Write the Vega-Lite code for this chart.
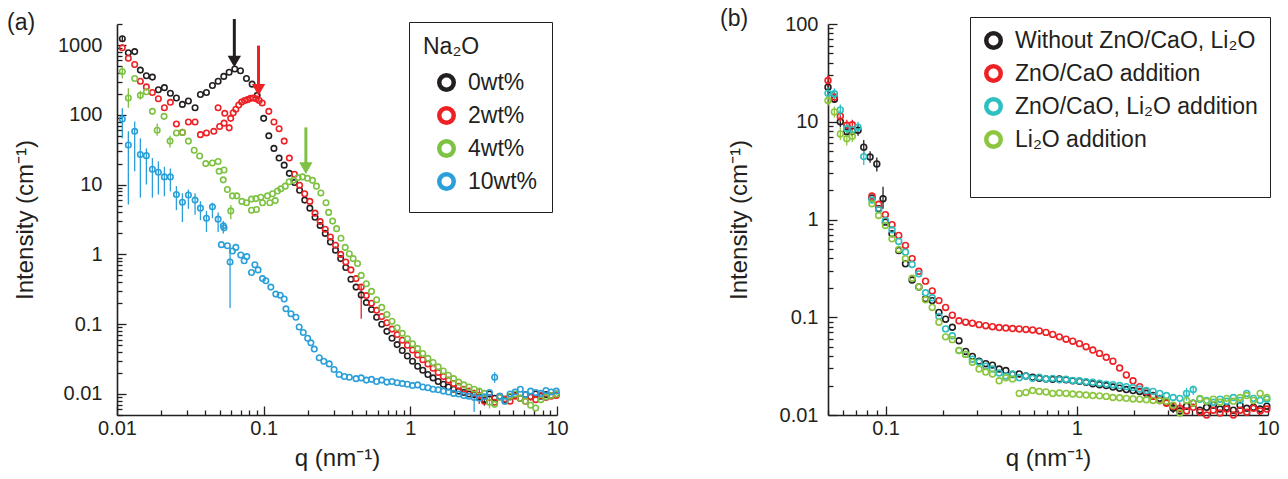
{
"$schema": "https://vega.github.io/schema/vega-lite/v6.json",
"background": "white",
"padding": {"left": 7, "top": 8, "right": 4, "bottom": 2},
"config": {
  "font": "Liberation Sans",
  "view": {"stroke": null},
  "axis": {"domainColor": "#231f20", "domainWidth": 1.6, "tickColor": "#231f20", "tickWidth": 1.3, "labelColor": "#231f20", "titleColor": "#231f20", "labelFontSize": 20, "titleFontSize": 24, "titleFontWeight": "normal", "grid": false, "labelOverlap": false, "labelFlush": false},
  "legend": {"strokeColor": "#231f20", "fillColor": "white", "labelFontSize": 23, "labelColor": "#231f20", "titleColor": "#231f20", "titleFontSize": 23, "titleFontWeight": "normal", "symbolSize": 210, "symbolStrokeWidth": 4.5, "rowPadding": 0, "labelOffset": 10, "labelLimit": 400},
  "title": {"fontSize": 23, "fontWeight": "normal", "color": "#231f20", "anchor": "start", "frame": "group", "offset": -17}
},
"datasets": {
"a": [
{"s":"0wt%","q":0.01087,"I":1230,"lo":1100,"hi":1360},{"s":"0wt%","q":0.01195,"I":776},{"s":"0wt%","q":0.0132,"I":804},{"s":"0wt%","q":0.01443,"I":437},{"s":"0wt%","q":0.01586,"I":363},{"s":"0wt%","q":0.01743,"I":347},{"s":"0wt%","q":0.01915,"I":229},{"s":"0wt%","q":0.02104,"I":245},{"s":"0wt%","q":0.02312,"I":204},{"s":"0wt%","q":0.02541,"I":174},{"s":"0wt%","q":0.02792,"I":141},{"s":"0wt%","q":0.03068,"I":158},{"s":"0wt%","q":0.03406,"I":126},{"s":"0wt%","q":0.03706,"I":195},{"s":"0wt%","q":0.04073,"I":209},{"s":"0wt%","q":0.04474,"I":263},{"s":"0wt%","q":0.04892,"I":302},{"s":"0wt%","q":0.05346,"I":355},{"s":"0wt%","q":0.05814,"I":407},{"s":"0wt%","q":0.06355,"I":454},{"s":"0wt%","q":0.06948,"I":427},{"s":"0wt%","q":0.07632,"I":331},{"s":"0wt%","q":0.08346,"I":275},{"s":"0wt%","q":0.09029,"I":190},
{"s":"0wt%","q":0.1,"I":89},{"s":"0wt%","q":0.1084,"I":50},{"s":"0wt%","q":0.1175,"I":33},{"s":"0wt%","q":0.1274,"I":24},{"s":"0wt%","q":0.138,"I":19},{"s":"0wt%","q":0.1496,"I":14.5},{"s":"0wt%","q":0.1622,"I":10.7},{"s":"0wt%","q":0.1758,"I":8.3},{"s":"0wt%","q":0.1905,"I":6.0},{"s":"0wt%","q":0.2065,"I":4.6},{"s":"0wt%","q":0.2239,"I":3.4},{"s":"0wt%","q":0.2427,"I":2.6},{"s":"0wt%","q":0.263,"I":2.0},{"s":"0wt%","q":0.2851,"I":1.51},{"s":"0wt%","q":0.309,"I":1.15},{"s":"0wt%","q":0.335,"I":0.87},{"s":"0wt%","q":0.3631,"I":0.65},{"s":"0wt%","q":0.3936,"I":0.44},{"s":"0wt%","q":0.4266,"I":0.34},{"s":"0wt%","q":0.4624,"I":0.263},{"s":"0wt%","q":0.5012,"I":0.204},{"s":"0wt%","q":0.5433,"I":0.162},{"s":"0wt%","q":0.5888,"I":0.126},{"s":"0wt%","q":0.6383,"I":0.1},{"s":"0wt%","q":0.6918,"I":0.079},{"s":"0wt%","q":0.7499,"I":0.063},{"s":"0wt%","q":0.8128,"I":0.051},{"s":"0wt%","q":0.881,"I":0.042},{"s":"0wt%","q":0.955,"I":0.035},{"s":"0wt%","q":1.035,"I":0.0295},{"s":"0wt%","q":1.122,"I":0.025},{"s":"0wt%","q":1.216,"I":0.0219},{"s":"0wt%","q":1.318,"I":0.019},{"s":"0wt%","q":1.429,"I":0.017},{"s":"0wt%","q":1.549,"I":0.0151},{"s":"0wt%","q":1.679,"I":0.0138},{"s":"0wt%","q":1.82,"I":0.0126},{"s":"0wt%","q":1.972,"I":0.0117},{"s":"0wt%","q":2.138,"I":0.011},{"s":"0wt%","q":2.317,"I":0.0105},{"s":"0wt%","q":2.512,"I":0.01},{"s":"0wt%","q":2.723,"I":0.0098},{"s":"0wt%","q":2.951,"I":0.0091},{"s":"0wt%","q":3.199,"I":0.0083,"lo":0.0068,"hi":0.0098},{"s":"0wt%","q":3.467,"I":0.01},{"s":"0wt%","q":3.758,"I":0.0087},{"s":"0wt%","q":4.074,"I":0.0093},{"s":"0wt%","q":4.416,"I":0.0083},{"s":"0wt%","q":4.786,"I":0.0091},{"s":"0wt%","q":5.188,"I":0.0095},{"s":"0wt%","q":5.623,"I":0.0087},{"s":"0wt%","q":6.095,"I":0.0098},{"s":"0wt%","q":6.607,"I":0.0091},{"s":"0wt%","q":7.161,"I":0.01},{"s":"0wt%","q":7.762,"I":0.0093},{"s":"0wt%","q":8.414,"I":0.0098},{"s":"0wt%","q":9.12,"I":0.0095},{"s":"0wt%","q":9.886,"I":0.01},
{"s":"2wt%","q":0.01087,"I":912},{"s":"2wt%","q":0.01195,"I":646},{"s":"2wt%","q":0.0132,"I":525},{"s":"2wt%","q":0.01443,"I":302},{"s":"2wt%","q":0.01586,"I":251},{"s":"2wt%","q":0.01743,"I":209},{"s":"2wt%","q":0.01915,"I":170},{"s":"2wt%","q":0.02104,"I":126},{"s":"2wt%","q":0.02312,"I":151},{"s":"2wt%","q":0.02541,"I":74},{"s":"2wt%","q":0.02792,"I":56},{"s":"2wt%","q":0.03068,"I":79},{"s":"2wt%","q":0.03406,"I":79},{"s":"2wt%","q":0.03706,"I":52},{"s":"2wt%","q":0.04073,"I":55},{"s":"2wt%","q":0.0457,"I":58},{"s":"2wt%","q":0.0489,"I":126},{"s":"2wt%","q":0.0501,"I":68},{"s":"2wt%","q":0.0537,"I":76},{"s":"2wt%","q":0.0543,"I":105},{"s":"2wt%","q":0.0582,"I":65},{"s":"2wt%","q":0.0596,"I":89},{"s":"2wt%","q":0.062,"I":107},{"s":"2wt%","q":0.0646,"I":120},{"s":"2wt%","q":0.0676,"I":138},{"s":"2wt%","q":0.0708,"I":152},{"s":"2wt%","q":0.0741,"I":160},{"s":"2wt%","q":0.0776,"I":165},{"s":"2wt%","q":0.0813,"I":172},{"s":"2wt%","q":0.0851,"I":174},{"s":"2wt%","q":0.0891,"I":170},{"s":"2wt%","q":0.0933,"I":160},{"s":"2wt%","q":0.0977,"I":148},
{"s":"2wt%","q":0.1084,"I":112},{"s":"2wt%","q":0.1175,"I":79},{"s":"2wt%","q":0.1274,"I":63},{"s":"2wt%","q":0.138,"I":42},{"s":"2wt%","q":0.1496,"I":24},{"s":"2wt%","q":0.1622,"I":14.1},{"s":"2wt%","q":0.1758,"I":9.8},{"s":"2wt%","q":0.1905,"I":7.4},{"s":"2wt%","q":0.2065,"I":5.75},{"s":"2wt%","q":0.2239,"I":3.9},{"s":"2wt%","q":0.2427,"I":2.95},{"s":"2wt%","q":0.263,"I":2.29},{"s":"2wt%","q":0.2851,"I":1.78},{"s":"2wt%","q":0.309,"I":1.35},{"s":"2wt%","q":0.335,"I":1.0},{"s":"2wt%","q":0.3631,"I":0.78},{"s":"2wt%","q":0.3936,"I":0.6},{"s":"2wt%","q":0.4266,"I":0.45},{"s":"2wt%","q":0.4624,"I":0.34,"lo":0.12,"hi":0.36},{"s":"2wt%","q":0.5012,"I":0.257},{"s":"2wt%","q":0.5433,"I":0.2},{"s":"2wt%","q":0.5888,"I":0.158},{"s":"2wt%","q":0.6383,"I":0.129},{"s":"2wt%","q":0.6918,"I":0.105},{"s":"2wt%","q":0.7499,"I":0.085},{"s":"2wt%","q":0.8128,"I":0.071},{"s":"2wt%","q":0.881,"I":0.059},{"s":"2wt%","q":0.955,"I":0.05},{"s":"2wt%","q":1.035,"I":0.0427},{"s":"2wt%","q":1.122,"I":0.0363},{"s":"2wt%","q":1.216,"I":0.0309},{"s":"2wt%","q":1.318,"I":0.0269},{"s":"2wt%","q":1.429,"I":0.0234},{"s":"2wt%","q":1.549,"I":0.0204},{"s":"2wt%","q":1.679,"I":0.0178},{"s":"2wt%","q":1.82,"I":0.0158},{"s":"2wt%","q":1.972,"I":0.0141},{"s":"2wt%","q":2.138,"I":0.0129},{"s":"2wt%","q":2.317,"I":0.0117},{"s":"2wt%","q":2.512,"I":0.011},{"s":"2wt%","q":2.723,"I":0.0102},{"s":"2wt%","q":2.951,"I":0.0095,"lo":0.0072,"hi":0.0118},{"s":"2wt%","q":3.199,"I":0.0079},{"s":"2wt%","q":3.467,"I":0.0089},{"s":"2wt%","q":3.758,"I":0.0076},{"s":"2wt%","q":4.074,"I":0.0091},{"s":"2wt%","q":4.416,"I":0.0085},{"s":"2wt%","q":4.786,"I":0.0079},{"s":"2wt%","q":5.188,"I":0.0093},{"s":"2wt%","q":5.623,"I":0.0087},{"s":"2wt%","q":6.095,"I":0.0079},{"s":"2wt%","q":6.607,"I":0.0091},{"s":"2wt%","q":7.161,"I":0.0083},{"s":"2wt%","q":7.762,"I":0.0095},{"s":"2wt%","q":8.414,"I":0.0089},{"s":"2wt%","q":9.12,"I":0.0093},{"s":"2wt%","q":9.886,"I":0.0095},
{"s":"4wt%","q":0.01087,"I":417,"lo":331,"hi":490},{"s":"4wt%","q":0.01195,"I":174,"lo":126,"hi":240},{"s":"4wt%","q":0.0132,"I":331},{"s":"4wt%","q":0.01443,"I":190,"lo":165,"hi":220},{"s":"4wt%","q":0.01586,"I":214},{"s":"4wt%","q":0.01743,"I":112},{"s":"4wt%","q":0.0188,"I":60,"lo":50,"hi":75},{"s":"4wt%","q":0.02094,"I":95},{"s":"4wt%","q":0.023,"I":42,"lo":34,"hi":50},{"s":"4wt%","q":0.02541,"I":55},{"s":"4wt%","q":0.02792,"I":56},{"s":"4wt%","q":0.03068,"I":42},{"s":"4wt%","q":0.0336,"I":31},{"s":"4wt%","q":0.0366,"I":25.7},{"s":"4wt%","q":0.0403,"I":20},{"s":"4wt%","q":0.0447,"I":20.4},{"s":"4wt%","q":0.0489,"I":21.4},{"s":"4wt%","q":0.0497,"I":15.5},{"s":"4wt%","q":0.053,"I":11.7},{"s":"4wt%","q":0.0537,"I":16.2},{"s":"4wt%","q":0.0566,"I":8.5},{"s":"4wt%","q":0.0597,"I":4.2,"lo":3.2,"hi":5.1},{"s":"4wt%","q":0.0612,"I":6.9},{"s":"4wt%","q":0.0656,"I":6.9},{"s":"4wt%","q":0.071,"I":5.75},{"s":"4wt%","q":0.0764,"I":5.5},{"s":"4wt%","q":0.0826,"I":6.2},{"s":"4wt%","q":0.0826,"I":4.3},{"s":"4wt%","q":0.0885,"I":6.3},{"s":"4wt%","q":0.0893,"I":4.4},{"s":"4wt%","q":0.0957,"I":6.6},{"s":"4wt%","q":0.0982,"I":5.5},{"s":"4wt%","q":0.1062,"I":6.9},{"s":"4wt%","q":0.1102,"I":5.5},{"s":"4wt%","q":0.1148,"I":7.4},{"s":"4wt%","q":0.12,"I":5.9},{"s":"4wt%","q":0.1242,"I":8.1},{"s":"4wt%","q":0.1309,"I":8.7},{"s":"4wt%","q":0.1403,"I":9.5},{"s":"4wt%","q":0.1493,"I":11.0},{"s":"4wt%","q":0.1596,"I":11.5},{"s":"4wt%","q":0.1718,"I":12.6},{"s":"4wt%","q":0.1841,"I":12.9},{"s":"4wt%","q":0.1991,"I":12.3},{"s":"4wt%","q":0.2153,"I":11.5},{"s":"4wt%","q":0.2291,"I":9.5},{"s":"4wt%","q":0.2455,"I":7.6},{"s":"4wt%","q":0.2661,"I":5.5},{"s":"4wt%","q":0.2773,"I":4.0},{"s":"4wt%","q":0.2951,"I":3.0},{"s":"4wt%","q":0.3141,"I":2.34},{"s":"4wt%","q":0.3365,"I":1.7},{"s":"4wt%","q":0.3597,"I":1.26},{"s":"4wt%","q":0.3837,"I":1.02},{"s":"4wt%","q":0.4074,"I":0.87},{"s":"4wt%","q":0.4365,"I":0.74},{"s":"4wt%","q":0.4624,"I":0.5},{"s":"4wt%","q":0.5012,"I":0.38},{"s":"4wt%","q":0.5433,"I":0.295},{"s":"4wt%","q":0.5888,"I":0.224},{"s":"4wt%","q":0.6383,"I":0.174},{"s":"4wt%","q":0.6918,"I":0.138},{"s":"4wt%","q":0.7499,"I":0.11},{"s":"4wt%","q":0.8128,"I":0.089},{"s":"4wt%","q":0.881,"I":0.074},{"s":"4wt%","q":0.955,"I":0.062},{"s":"4wt%","q":1.035,"I":0.0525},{"s":"4wt%","q":1.122,"I":0.0447},{"s":"4wt%","q":1.216,"I":0.038},{"s":"4wt%","q":1.318,"I":0.0324},{"s":"4wt%","q":1.429,"I":0.0282},{"s":"4wt%","q":1.549,"I":0.0245},{"s":"4wt%","q":1.679,"I":0.0214},{"s":"4wt%","q":1.82,"I":0.0186},{"s":"4wt%","q":1.972,"I":0.0166},{"s":"4wt%","q":2.138,"I":0.0148},{"s":"4wt%","q":2.317,"I":0.0135},{"s":"4wt%","q":2.512,"I":0.0126},{"s":"4wt%","q":2.723,"I":0.0117},{"s":"4wt%","q":2.951,"I":0.011},{"s":"4wt%","q":3.199,"I":0.0102},{"s":"4wt%","q":3.467,"I":0.0076,"lo":0.0062,"hi":0.009},{"s":"4wt%","q":3.758,"I":0.0071},{"s":"4wt%","q":4.074,"I":0.0089},{"s":"4wt%","q":4.416,"I":0.0079},{"s":"4wt%","q":4.786,"I":0.0093},{"s":"4wt%","q":5.188,"I":0.01},{"s":"4wt%","q":5.623,"I":0.0087},{"s":"4wt%","q":6.095,"I":0.0079},{"s":"4wt%","q":6.607,"I":0.0069},{"s":"4wt%","q":7.161,"I":0.0063},{"s":"4wt%","q":7.762,"I":0.0083},{"s":"4wt%","q":8.414,"I":0.0091},{"s":"4wt%","q":9.12,"I":0.0095},{"s":"4wt%","q":9.886,"I":0.01},
{"s":"10wt%","q":0.01087,"I":87,"lo":46,"hi":124},{"s":"10wt%","q":0.01195,"I":37,"lo":5.2,"hi":58},{"s":"10wt%","q":0.0132,"I":58,"lo":15.5,"hi":80},{"s":"10wt%","q":0.01443,"I":27,"lo":6.5,"hi":46},{"s":"10wt%","q":0.01586,"I":26,"lo":10,"hi":33},{"s":"10wt%","q":0.01743,"I":16.6,"lo":6.5,"hi":24},{"s":"10wt%","q":0.01915,"I":15,"lo":7.2,"hi":21.5},{"s":"10wt%","q":0.02104,"I":12.9,"lo":6.8,"hi":18},{"s":"10wt%","q":0.02312,"I":12.9,"lo":8,"hi":17},{"s":"10wt%","q":0.02541,"I":7.2,"lo":4.3,"hi":9.5},{"s":"10wt%","q":0.02792,"I":5.6,"lo":2.9,"hi":7.5},{"s":"10wt%","q":0.03068,"I":7.1,"lo":4.5,"hi":8.5},{"s":"10wt%","q":0.03406,"I":6.0,"lo":3.7,"hi":7.5},{"s":"10wt%","q":0.03706,"I":4.6,"lo":3.1,"hi":5.8},{"s":"10wt%","q":0.04073,"I":3.3,"lo":2.1,"hi":4.2},{"s":"10wt%","q":0.04474,"I":4.8,"lo":3.3,"hi":5.5},{"s":"10wt%","q":0.04892,"I":3.2,"lo":2.1,"hi":4.0},{"s":"10wt%","q":0.0515,"I":1.38},{"s":"10wt%","q":0.0531,"I":2.57,"lo":2.0,"hi":3.0},{"s":"10wt%","q":0.0537,"I":2.4},{"s":"10wt%","q":0.0566,"I":1.33},{"s":"10wt%","q":0.059,"I":0.78,"lo":0.17,"hi":1.26},{"s":"10wt%","q":0.0612,"I":1.12},{"s":"10wt%","q":0.0646,"I":1.26},{"s":"10wt%","q":0.0698,"I":0.98},{"s":"10wt%","q":0.0736,"I":0.81},{"s":"10wt%","q":0.0767,"I":0.93},{"s":"10wt%","q":0.0826,"I":0.55},{"s":"10wt%","q":0.0871,"I":0.71},{"s":"10wt%","q":0.0916,"I":0.6},{"s":"10wt%","q":0.0982,"I":0.45},{"s":"10wt%","q":0.1035,"I":0.42},{"s":"10wt%","q":0.1119,"I":0.34},{"s":"10wt%","q":0.121,"I":0.27},{"s":"10wt%","q":0.1297,"I":0.26},{"s":"10wt%","q":0.138,"I":0.23},{"s":"10wt%","q":0.1419,"I":0.166},{"s":"10wt%","q":0.1535,"I":0.141},{"s":"10wt%","q":0.166,"I":0.126},{"s":"10wt%","q":0.1746,"I":0.091},{"s":"10wt%","q":0.1862,"I":0.076},{"s":"10wt%","q":0.1995,"I":0.063},{"s":"10wt%","q":0.2099,"I":0.054},{"s":"10wt%","q":0.2213,"I":0.044},{"s":"10wt%","q":0.2393,"I":0.033},{"s":"10wt%","q":0.257,"I":0.0295},{"s":"10wt%","q":0.28,"I":0.027},{"s":"10wt%","q":0.302,"I":0.0224},{"s":"10wt%","q":0.327,"I":0.019},{"s":"10wt%","q":0.355,"I":0.0178},{"s":"10wt%","q":0.384,"I":0.0174},{"s":"10wt%","q":0.4266,"I":0.0166},{"s":"10wt%","q":0.4624,"I":0.017},{"s":"10wt%","q":0.5012,"I":0.0158},{"s":"10wt%","q":0.5433,"I":0.0162},{"s":"10wt%","q":0.5888,"I":0.0151},{"s":"10wt%","q":0.6383,"I":0.0158},{"s":"10wt%","q":0.6918,"I":0.0148},{"s":"10wt%","q":0.7499,"I":0.0151},{"s":"10wt%","q":0.8128,"I":0.0145},{"s":"10wt%","q":0.881,"I":0.0141},{"s":"10wt%","q":0.955,"I":0.0138},{"s":"10wt%","q":1.035,"I":0.0132},{"s":"10wt%","q":1.122,"I":0.0135},{"s":"10wt%","q":1.216,"I":0.0126},{"s":"10wt%","q":1.318,"I":0.0123},{"s":"10wt%","q":1.429,"I":0.0117},{"s":"10wt%","q":1.549,"I":0.0115},{"s":"10wt%","q":1.679,"I":0.011},{"s":"10wt%","q":1.82,"I":0.0107},{"s":"10wt%","q":1.972,"I":0.0102},{"s":"10wt%","q":2.138,"I":0.01},{"s":"10wt%","q":2.317,"I":0.0095},{"s":"10wt%","q":2.512,"I":0.0093},{"s":"10wt%","q":2.723,"I":0.0089,"lo":0.0055,"hi":0.0115},{"s":"10wt%","q":2.951,"I":0.0087},{"s":"10wt%","q":3.199,"I":0.0091},{"s":"10wt%","q":3.467,"I":0.0105},{"s":"10wt%","q":3.758,"I":0.0174,"lo":0.0145,"hi":0.0205},{"s":"10wt%","q":4.074,"I":0.0093},{"s":"10wt%","q":4.416,"I":0.0079},{"s":"10wt%","q":4.786,"I":0.01},{"s":"10wt%","q":5.188,"I":0.0107},{"s":"10wt%","q":5.623,"I":0.0117},{"s":"10wt%","q":6.095,"I":0.0098},{"s":"10wt%","q":6.607,"I":0.011},{"s":"10wt%","q":7.161,"I":0.0105},{"s":"10wt%","q":7.762,"I":0.0102},{"s":"10wt%","q":8.414,"I":0.0112},{"s":"10wt%","q":9.12,"I":0.0107},{"s":"10wt%","q":9.886,"I":0.011}
],
"arrows": [
{"s":"0wt%","q":0.0631,"top":2355,"head":580},
{"s":"2wt%","q":0.0922,"top":980,"head":228},
{"s":"4wt%","q":0.194,"top":66,"head":17.2}
],
"b": [
{"s":"Without ZnO/CaO, Li₂O","q":0.05,"I":22.6,"lo":19,"hi":26},{"s":"Without ZnO/CaO, Li₂O","q":0.054,"I":17},{"s":"Without ZnO/CaO, Li₂O","q":0.058,"I":10,"lo":8.8,"hi":11.3},{"s":"Without ZnO/CaO, Li₂O","q":0.0627,"I":7.9,"lo":7,"hi":8.9},{"s":"Without ZnO/CaO, Li₂O","q":0.067,"I":8.0,"lo":7.1,"hi":9},{"s":"Without ZnO/CaO, Li₂O","q":0.0718,"I":8.2,"lo":7.2,"hi":9.3},{"s":"Without ZnO/CaO, Li₂O","q":0.0769,"I":5.5,"lo":4.8,"hi":6.5},{"s":"Without ZnO/CaO, Li₂O","q":0.083,"I":4.35,"lo":3.8,"hi":5},{"s":"Without ZnO/CaO, Li₂O","q":0.09,"I":3.7,"lo":3.1,"hi":4.3},
{"s":"Without ZnO/CaO, Li₂O","q":0.0849,"I":1.66},{"s":"Without ZnO/CaO, Li₂O","q":0.092,"I":1.29},{"s":"Without ZnO/CaO, Li₂O","q":0.097,"I":1.63,"lo":1.29,"hi":2.16},{"s":"Without ZnO/CaO, Li₂O","q":0.0998,"I":0.94},{"s":"Without ZnO/CaO, Li₂O","q":0.1081,"I":0.714},{"s":"Without ZnO/CaO, Li₂O","q":0.1172,"I":0.482},{"s":"Without ZnO/CaO, Li₂O","q":0.1271,"I":0.352},{"s":"Without ZnO/CaO, Li₂O","q":0.1377,"I":0.24},{"s":"Without ZnO/CaO, Li₂O","q":0.1493,"I":0.204},{"s":"Without ZnO/CaO, Li₂O","q":0.1618,"I":0.155},{"s":"Without ZnO/CaO, Li₂O","q":0.1754,"I":0.148},{"s":"Without ZnO/CaO, Li₂O","q":0.1901,"I":0.112},{"s":"Without ZnO/CaO, Li₂O","q":0.2061,"I":0.0955},{"s":"Without ZnO/CaO, Li₂O","q":0.2234,"I":0.079},{"s":"Without ZnO/CaO, Li₂O","q":0.2421,"I":0.0575},{"s":"Without ZnO/CaO, Li₂O","q":0.2624,"I":0.0447},{"s":"Without ZnO/CaO, Li₂O","q":0.2844,"I":0.0398},{"s":"Without ZnO/CaO, Li₂O","q":0.3083,"I":0.0355},{"s":"Without ZnO/CaO, Li₂O","q":0.3342,"I":0.0335},{"s":"Without ZnO/CaO, Li₂O","q":0.3622,"I":0.0324},{"s":"Without ZnO/CaO, Li₂O","q":0.3926,"I":0.0295},{"s":"Without ZnO/CaO, Li₂O","q":0.4256,"I":0.0285},{"s":"Without ZnO/CaO, Li₂O","q":0.4613,"I":0.026},{"s":"Without ZnO/CaO, Li₂O","q":0.5,"I":0.0263},{"s":"Without ZnO/CaO, Li₂O","q":0.542,"I":0.0251},{"s":"Without ZnO/CaO, Li₂O","q":0.5875,"I":0.0243},{"s":"Without ZnO/CaO, Li₂O","q":0.6368,"I":0.0237},{"s":"Without ZnO/CaO, Li₂O","q":0.6902,"I":0.0234},{"s":"Without ZnO/CaO, Li₂O","q":0.7482,"I":0.0232},{"s":"Without ZnO/CaO, Li₂O","q":0.811,"I":0.0234},{"s":"Without ZnO/CaO, Li₂O","q":0.879,"I":0.0229},{"s":"Without ZnO/CaO, Li₂O","q":0.9528,"I":0.0224},{"s":"Without ZnO/CaO, Li₂O","q":1.033,"I":0.0221},{"s":"Without ZnO/CaO, Li₂O","q":1.119,"I":0.0216},{"s":"Without ZnO/CaO, Li₂O","q":1.213,"I":0.0209},{"s":"Without ZnO/CaO, Li₂O","q":1.315,"I":0.0204},{"s":"Without ZnO/CaO, Li₂O","q":1.426,"I":0.02},{"s":"Without ZnO/CaO, Li₂O","q":1.545,"I":0.0193},{"s":"Without ZnO/CaO, Li₂O","q":1.675,"I":0.0188},{"s":"Without ZnO/CaO, Li₂O","q":1.816,"I":0.0182},{"s":"Without ZnO/CaO, Li₂O","q":1.968,"I":0.0178},{"s":"Without ZnO/CaO, Li₂O","q":2.133,"I":0.0174},{"s":"Without ZnO/CaO, Li₂O","q":2.312,"I":0.0166},{"s":"Without ZnO/CaO, Li₂O","q":2.506,"I":0.0158},{"s":"Without ZnO/CaO, Li₂O","q":2.716,"I":0.0148},{"s":"Without ZnO/CaO, Li₂O","q":2.944,"I":0.0135},{"s":"Without ZnO/CaO, Li₂O","q":3.192,"I":0.0117,"lo":0.0105,"hi":0.013},{"s":"Without ZnO/CaO, Li₂O","q":3.459,"I":0.011},{"s":"Without ZnO/CaO, Li₂O","q":3.75,"I":0.0123},{"s":"Without ZnO/CaO, Li₂O","q":4.064,"I":0.0132},{"s":"Without ZnO/CaO, Li₂O","q":4.406,"I":0.0112},{"s":"Without ZnO/CaO, Li₂O","q":4.775,"I":0.012},{"s":"Without ZnO/CaO, Li₂O","q":5.176,"I":0.0126},{"s":"Without ZnO/CaO, Li₂O","q":5.61,"I":0.0115},{"s":"Without ZnO/CaO, Li₂O","q":6.081,"I":0.012},{"s":"Without ZnO/CaO, Li₂O","q":6.592,"I":0.0112},{"s":"Without ZnO/CaO, Li₂O","q":7.145,"I":0.0126},{"s":"Without ZnO/CaO, Li₂O","q":7.745,"I":0.0117},{"s":"Without ZnO/CaO, Li₂O","q":8.395,"I":0.012},{"s":"Without ZnO/CaO, Li₂O","q":9.099,"I":0.0115},{"s":"Without ZnO/CaO, Li₂O","q":9.863,"I":0.0123},
{"s":"ZnO/CaO addition","q":0.05,"I":26.4,"lo":23,"hi":30},{"s":"ZnO/CaO addition","q":0.054,"I":17.9,"lo":15.8,"hi":20},{"s":"ZnO/CaO addition","q":0.058,"I":11.4,"lo":10,"hi":13},{"s":"ZnO/CaO addition","q":0.0627,"I":9.2,"lo":8.1,"hi":10.5},{"s":"ZnO/CaO addition","q":0.067,"I":9.3,"lo":8.2,"hi":10.5},
{"s":"ZnO/CaO addition","q":0.0849,"I":1.74},{"s":"ZnO/CaO addition","q":0.092,"I":1.43},{"s":"ZnO/CaO addition","q":0.0998,"I":1.12},{"s":"ZnO/CaO addition","q":0.1081,"I":0.885},{"s":"ZnO/CaO addition","q":0.1172,"I":0.687},{"s":"ZnO/CaO addition","q":0.1271,"I":0.543},{"s":"ZnO/CaO addition","q":0.1377,"I":0.398},{"s":"ZnO/CaO addition","q":0.1493,"I":0.295},{"s":"ZnO/CaO addition","q":0.1618,"I":0.234},{"s":"ZnO/CaO addition","q":0.1754,"I":0.186},{"s":"ZnO/CaO addition","q":0.1901,"I":0.148},{"s":"ZnO/CaO addition","q":0.2061,"I":0.126},{"s":"ZnO/CaO addition","q":0.2234,"I":0.105},{"s":"ZnO/CaO addition","q":0.2421,"I":0.092},{"s":"ZnO/CaO addition","q":0.2624,"I":0.089},{"s":"ZnO/CaO addition","q":0.2844,"I":0.087},{"s":"ZnO/CaO addition","q":0.3083,"I":0.084},{"s":"ZnO/CaO addition","q":0.3342,"I":0.082},{"s":"ZnO/CaO addition","q":0.3622,"I":0.08},{"s":"ZnO/CaO addition","q":0.3926,"I":0.0785},{"s":"ZnO/CaO addition","q":0.4256,"I":0.0776},{"s":"ZnO/CaO addition","q":0.4613,"I":0.0767},{"s":"ZnO/CaO addition","q":0.5,"I":0.0759},{"s":"ZnO/CaO addition","q":0.542,"I":0.075},{"s":"ZnO/CaO addition","q":0.5875,"I":0.0741},{"s":"ZnO/CaO addition","q":0.6368,"I":0.0724},{"s":"ZnO/CaO addition","q":0.6902,"I":0.07},{"s":"ZnO/CaO addition","q":0.7482,"I":0.0668},{"s":"ZnO/CaO addition","q":0.811,"I":0.063},{"s":"ZnO/CaO addition","q":0.879,"I":0.0596},{"s":"ZnO/CaO addition","q":0.9528,"I":0.0569},{"s":"ZnO/CaO addition","q":1.033,"I":0.0537},{"s":"ZnO/CaO addition","q":1.119,"I":0.05},{"s":"ZnO/CaO addition","q":1.213,"I":0.0462},{"s":"ZnO/CaO addition","q":1.315,"I":0.0427},{"s":"ZnO/CaO addition","q":1.426,"I":0.0389},{"s":"ZnO/CaO addition","q":1.545,"I":0.0355},{"s":"ZnO/CaO addition","q":1.675,"I":0.0302},{"s":"ZnO/CaO addition","q":1.816,"I":0.0257},{"s":"ZnO/CaO addition","q":1.968,"I":0.0224},{"s":"ZnO/CaO addition","q":2.133,"I":0.0195},{"s":"ZnO/CaO addition","q":2.312,"I":0.0174},{"s":"ZnO/CaO addition","q":2.506,"I":0.0155},{"s":"ZnO/CaO addition","q":2.716,"I":0.0141},{"s":"ZnO/CaO addition","q":2.944,"I":0.0132},{"s":"ZnO/CaO addition","q":3.192,"I":0.0123},{"s":"ZnO/CaO addition","q":3.459,"I":0.0117,"lo":0.0102,"hi":0.0135},{"s":"ZnO/CaO addition","q":3.75,"I":0.011},{"s":"ZnO/CaO addition","q":4.064,"I":0.012},{"s":"ZnO/CaO addition","q":4.406,"I":0.0107},{"s":"ZnO/CaO addition","q":4.775,"I":0.01},{"s":"ZnO/CaO addition","q":5.176,"I":0.0112},{"s":"ZnO/CaO addition","q":5.61,"I":0.0105},{"s":"ZnO/CaO addition","q":6.081,"I":0.0115},{"s":"ZnO/CaO addition","q":6.592,"I":0.01},{"s":"ZnO/CaO addition","q":7.145,"I":0.0112},{"s":"ZnO/CaO addition","q":7.745,"I":0.0107},{"s":"ZnO/CaO addition","q":8.395,"I":0.0117},{"s":"ZnO/CaO addition","q":9.099,"I":0.011},{"s":"ZnO/CaO addition","q":9.863,"I":0.0115},
{"s":"ZnO/CaO, Li₂O addition","q":0.05,"I":19.6,"lo":17,"hi":22.5},{"s":"ZnO/CaO, Li₂O addition","q":0.054,"I":19.3,"lo":17,"hi":22},{"s":"ZnO/CaO, Li₂O addition","q":0.058,"I":13.2,"lo":11.5,"hi":15},{"s":"ZnO/CaO, Li₂O addition","q":0.0627,"I":8.5,"lo":7.5,"hi":9.5},{"s":"ZnO/CaO, Li₂O addition","q":0.067,"I":8.3},{"s":"ZnO/CaO, Li₂O addition","q":0.0718,"I":8.8,"lo":7.8,"hi":10},{"s":"ZnO/CaO, Li₂O addition","q":0.0769,"I":4.4,"lo":3.6,"hi":5.2},
{"s":"ZnO/CaO, Li₂O addition","q":0.0849,"I":1.58},{"s":"ZnO/CaO, Li₂O addition","q":0.092,"I":1.26},{"s":"ZnO/CaO, Li₂O addition","q":0.0998,"I":0.98},{"s":"ZnO/CaO, Li₂O addition","q":0.1081,"I":0.785},{"s":"ZnO/CaO, Li₂O addition","q":0.1172,"I":0.596},{"s":"ZnO/CaO, Li₂O addition","q":0.1271,"I":0.463},{"s":"ZnO/CaO, Li₂O addition","q":0.1377,"I":0.347},{"s":"ZnO/CaO, Li₂O addition","q":0.1493,"I":0.278},{"s":"ZnO/CaO, Li₂O addition","q":0.1618,"I":0.178},{"s":"ZnO/CaO, Li₂O addition","q":0.1754,"I":0.158},{"s":"ZnO/CaO, Li₂O addition","q":0.1901,"I":0.102},{"s":"ZnO/CaO, Li₂O addition","q":0.2061,"I":0.076},{"s":"ZnO/CaO, Li₂O addition","q":0.2234,"I":0.0646},{"s":"ZnO/CaO, Li₂O addition","q":0.2421,"I":0.0457},{"s":"ZnO/CaO, Li₂O addition","q":0.2624,"I":0.0417},{"s":"ZnO/CaO, Li₂O addition","q":0.2844,"I":0.0372},{"s":"ZnO/CaO, Li₂O addition","q":0.3083,"I":0.0347},{"s":"ZnO/CaO, Li₂O addition","q":0.3342,"I":0.0316},{"s":"ZnO/CaO, Li₂O addition","q":0.3622,"I":0.0295},{"s":"ZnO/CaO, Li₂O addition","q":0.3926,"I":0.0269},{"s":"ZnO/CaO, Li₂O addition","q":0.4256,"I":0.0251},{"s":"ZnO/CaO, Li₂O addition","q":0.4613,"I":0.0263},{"s":"ZnO/CaO, Li₂O addition","q":0.5,"I":0.024},{"s":"ZnO/CaO, Li₂O addition","q":0.542,"I":0.0251},{"s":"ZnO/CaO, Li₂O addition","q":0.5875,"I":0.0237},{"s":"ZnO/CaO, Li₂O addition","q":0.6368,"I":0.0243},{"s":"ZnO/CaO, Li₂O addition","q":0.6902,"I":0.0234},{"s":"ZnO/CaO, Li₂O addition","q":0.7482,"I":0.0237},{"s":"ZnO/CaO, Li₂O addition","q":0.811,"I":0.0229},{"s":"ZnO/CaO, Li₂O addition","q":0.879,"I":0.0232},{"s":"ZnO/CaO, Li₂O addition","q":0.9528,"I":0.0226},{"s":"ZnO/CaO, Li₂O addition","q":1.033,"I":0.0224},{"s":"ZnO/CaO, Li₂O addition","q":1.119,"I":0.0219},{"s":"ZnO/CaO, Li₂O addition","q":1.213,"I":0.0216},{"s":"ZnO/CaO, Li₂O addition","q":1.315,"I":0.0211},{"s":"ZnO/CaO, Li₂O addition","q":1.426,"I":0.0207},{"s":"ZnO/CaO, Li₂O addition","q":1.545,"I":0.0204},{"s":"ZnO/CaO, Li₂O addition","q":1.675,"I":0.02},{"s":"ZnO/CaO, Li₂O addition","q":1.816,"I":0.0195},{"s":"ZnO/CaO, Li₂O addition","q":1.968,"I":0.0191},{"s":"ZnO/CaO, Li₂O addition","q":2.133,"I":0.0184},{"s":"ZnO/CaO, Li₂O addition","q":2.312,"I":0.0178},{"s":"ZnO/CaO, Li₂O addition","q":2.506,"I":0.0174},{"s":"ZnO/CaO, Li₂O addition","q":2.716,"I":0.0166},{"s":"ZnO/CaO, Li₂O addition","q":2.944,"I":0.0158},{"s":"ZnO/CaO, Li₂O addition","q":3.192,"I":0.0151},{"s":"ZnO/CaO, Li₂O addition","q":3.459,"I":0.0148},{"s":"ZnO/CaO, Li₂O addition","q":3.75,"I":0.0166,"lo":0.014,"hi":0.019},{"s":"ZnO/CaO, Li₂O addition","q":4.064,"I":0.0182,"lo":0.016,"hi":0.02},{"s":"ZnO/CaO, Li₂O addition","q":4.406,"I":0.0145},{"s":"ZnO/CaO, Li₂O addition","q":4.775,"I":0.0141},{"s":"ZnO/CaO, Li₂O addition","q":5.176,"I":0.0135},{"s":"ZnO/CaO, Li₂O addition","q":5.61,"I":0.0145},{"s":"ZnO/CaO, Li₂O addition","q":6.081,"I":0.0138},{"s":"ZnO/CaO, Li₂O addition","q":6.592,"I":0.0151},{"s":"ZnO/CaO, Li₂O addition","q":7.145,"I":0.0141},{"s":"ZnO/CaO, Li₂O addition","q":7.745,"I":0.0166},{"s":"ZnO/CaO, Li₂O addition","q":8.395,"I":0.0148},{"s":"ZnO/CaO, Li₂O addition","q":9.099,"I":0.0141},{"s":"ZnO/CaO, Li₂O addition","q":9.863,"I":0.0145},
{"s":"Li₂O addition","q":0.05,"I":16.5,"lo":14.5,"hi":18.5},{"s":"Li₂O addition","q":0.054,"I":12.6,"lo":11,"hi":14.3},{"s":"Li₂O addition","q":0.058,"I":7.5,"lo":6.5,"hi":8.7},{"s":"Li₂O addition","q":0.0627,"I":6.7,"lo":5.7,"hi":7.8},{"s":"Li₂O addition","q":0.067,"I":7.1,"lo":6.2,"hi":8.2},
{"s":"Li₂O addition","q":0.0849,"I":1.45},{"s":"Li₂O addition","q":0.092,"I":1.1},{"s":"Li₂O addition","q":0.0998,"I":0.87},{"s":"Li₂O addition","q":0.1081,"I":0.635},{"s":"Li₂O addition","q":0.1172,"I":0.493},{"s":"Li₂O addition","q":0.1271,"I":0.398},{"s":"Li₂O addition","q":0.1377,"I":0.251},{"s":"Li₂O addition","q":0.1493,"I":0.204},{"s":"Li₂O addition","q":0.1618,"I":0.151},{"s":"Li₂O addition","q":0.1754,"I":0.126},{"s":"Li₂O addition","q":0.1901,"I":0.089},{"s":"Li₂O addition","q":0.2061,"I":0.063},{"s":"Li₂O addition","q":0.2234,"I":0.059},{"s":"Li₂O addition","q":0.2421,"I":0.0457},{"s":"Li₂O addition","q":0.2624,"I":0.0417},{"s":"Li₂O addition","q":0.2844,"I":0.0347},{"s":"Li₂O addition","q":0.3083,"I":0.0295},{"s":"Li₂O addition","q":0.3342,"I":0.0275},{"s":"Li₂O addition","q":0.3622,"I":0.0263},{"s":"Li₂O addition","q":0.3926,"I":0.0224},{"s":"Li₂O addition","q":0.4256,"I":0.024},{"s":"Li₂O addition","q":0.4613,"I":0.0234},{"s":"Li₂O addition","q":0.5,"I":0.0166},{"s":"Li₂O addition","q":0.542,"I":0.017},{"s":"Li₂O addition","q":0.5875,"I":0.0178},{"s":"Li₂O addition","q":0.6368,"I":0.0174},{"s":"Li₂O addition","q":0.6902,"I":0.0172},{"s":"Li₂O addition","q":0.7482,"I":0.0166},{"s":"Li₂O addition","q":0.811,"I":0.0168},{"s":"Li₂O addition","q":0.879,"I":0.0166},{"s":"Li₂O addition","q":0.9528,"I":0.0164},{"s":"Li₂O addition","q":1.033,"I":0.0162},{"s":"Li₂O addition","q":1.119,"I":0.016},{"s":"Li₂O addition","q":1.213,"I":0.0158},{"s":"Li₂O addition","q":1.315,"I":0.0157},{"s":"Li₂O addition","q":1.426,"I":0.0155},{"s":"Li₂O addition","q":1.545,"I":0.0151},{"s":"Li₂O addition","q":1.675,"I":0.015},{"s":"Li₂O addition","q":1.816,"I":0.0148},{"s":"Li₂O addition","q":1.968,"I":0.0146},{"s":"Li₂O addition","q":2.133,"I":0.0145},{"s":"Li₂O addition","q":2.312,"I":0.0143},{"s":"Li₂O addition","q":2.506,"I":0.0141},{"s":"Li₂O addition","q":2.716,"I":0.014},{"s":"Li₂O addition","q":2.944,"I":0.0138},{"s":"Li₂O addition","q":3.192,"I":0.0126},{"s":"Li₂O addition","q":3.459,"I":0.0105,"lo":0.0095,"hi":0.0118},{"s":"Li₂O addition","q":3.75,"I":0.0141},{"s":"Li₂O addition","q":4.064,"I":0.0132},{"s":"Li₂O addition","q":4.406,"I":0.0148},{"s":"Li₂O addition","q":4.775,"I":0.0138},{"s":"Li₂O addition","q":5.176,"I":0.0145},{"s":"Li₂O addition","q":5.61,"I":0.0135},{"s":"Li₂O addition","q":6.081,"I":0.0148},{"s":"Li₂O addition","q":6.592,"I":0.0138},{"s":"Li₂O addition","q":7.145,"I":0.0151},{"s":"Li₂O addition","q":7.745,"I":0.0158},{"s":"Li₂O addition","q":8.395,"I":0.0141},{"s":"Li₂O addition","q":9.099,"I":0.0166},{"s":"Li₂O addition","q":9.863,"I":0.0151}
]
},
"bounds": "flush",
"spacing": 271,
"resolve": {"scale": {"color": "independent", "x": "independent", "y": "independent"}, "legend": {"color": "independent"}},
"hconcat": [
{
  "width": 440, "height": 391,
  "title": {"text": "(a)", "dx": -110},
  "resolve": {"axis": {"x": "independent", "y": "independent"}},
  "layer": [
    {
      "data": {"name": "a"},
      "transform": [{"filter": "isValid(datum.lo)"}],
      "mark": {"type": "rule", "strokeWidth": 1.3},
      "encoding": {
        "x": {"field": "q", "type": "quantitative", "scale": {"type": "log", "domain": [0.01, 10], "nice": false},
          "axis": {"orient": "bottom", "values": [0.02,0.03,0.04,0.05,0.06,0.07,0.08,0.09,0.2,0.3,0.4,0.5,0.6,0.7,0.8,0.9,2,3,4,5,6,7,8,9], "labels": false, "domain": false, "title": null, "tickSize": -5}},
        "y": {"field": "lo", "type": "quantitative", "scale": {"type": "log", "domain": [0.005, 2000], "nice": false},
          "axis": {"orient": "left", "values": [0.005,0.006,0.007,0.008,0.009,0.02,0.03,0.04,0.05,0.06,0.07,0.08,0.09,0.2,0.3,0.4,0.5,0.6,0.7,0.8,0.9,2,3,4,5,6,7,8,9,20,30,40,50,60,70,80,90,200,300,400,500,600,700,800,900,2000], "labels": false, "domain": false, "title": null, "tickSize": -5}},
        "y2": {"field": "hi"},
        "color": {"field": "s", "type": "nominal", "scale": {"domain": ["0wt%", "2wt%", "4wt%", "10wt%"], "range": ["#231f20", "#ed2024", "#7dc242", "#2b9fd9"]}}
      }
    },
    {
      "data": {"name": "a"},
      "mark": {"type": "point", "shape": "circle", "filled": false, "size": 30, "strokeWidth": 1.6, "opacity": 1},
      "encoding": {
        "x": {"field": "q", "type": "quantitative", "scale": {"type": "log", "domain": [0.01, 10], "nice": false},
          "axis": {"orient": "bottom", "title": "q (nm⁻¹)", "values": [0.01, 0.1, 1, 10], "format": "~g", "tickSize": -9, "labelPadding": 12, "titlePadding": 8}},
        "y": {"field": "I", "type": "quantitative", "scale": {"type": "log", "domain": [0.005, 2000], "nice": false},
          "axis": {"orient": "left", "title": "Intensity (cm⁻¹)", "values": [0.01, 0.1, 1, 10, 100, 1000], "format": "~g", "tickSize": -9, "labelPadding": 24, "titlePadding": 20}},
        "color": {"field": "s", "type": "nominal", "scale": {"domain": ["0wt%", "2wt%", "4wt%", "10wt%"], "range": ["#231f20", "#ed2024", "#7dc242", "#2b9fd9"]},
          "legend": {"title": "Na₂O", "orient": "none", "legendX": 292, "legendY": -2, "padding": 14, "titlePadding": 12, "symbolOffset": 12, "symbolType": "circle"}}
      }
    },
    {
      "data": {"name": "arrows"},
      "mark": {"type": "rule", "strokeWidth": 3},
      "encoding": {
        "x": {"field": "q", "type": "quantitative", "scale": {"type": "log", "domain": [0.01, 10], "nice": false}, "axis": null},
        "y": {"field": "top", "type": "quantitative", "scale": {"type": "log", "domain": [0.005, 2000], "nice": false}, "axis": null},
        "y2": {"field": "head"},
        "color": {"field": "s", "type": "nominal"}
      }
    },
    {
      "data": {"name": "arrows"},
      "mark": {"type": "point", "shape": "triangle-down", "filled": true, "size": 180, "opacity": 1, "strokeWidth": 0},
      "encoding": {
        "x": {"field": "q", "type": "quantitative", "scale": {"type": "log", "domain": [0.01, 10], "nice": false}, "axis": null},
        "y": {"field": "head", "type": "quantitative", "scale": {"type": "log", "domain": [0.005, 2000], "nice": false}, "axis": null},
        "fill": {"condition": [{"test": "datum.s == '0wt%'", "value": "#231f20"}, {"test": "datum.s == '2wt%'", "value": "#ed2024"}], "value": "#7dc242"}
      }
    }
  ]
},
{
  "width": 440, "height": 391,
  "title": {"text": "(b)", "dx": -108},
  "resolve": {"axis": {"x": "independent", "y": "independent"}},
  "layer": [
    {
      "data": {"name": "b"},
      "transform": [{"filter": "isValid(datum.lo)"}],
      "mark": {"type": "rule", "strokeWidth": 1.3},
      "encoding": {
        "x": {"field": "q", "type": "quantitative", "scale": {"type": "log", "domain": [0.05, 10], "nice": false},
          "axis": {"orient": "bottom", "values": [0.05,0.06,0.07,0.08,0.09,0.2,0.3,0.4,0.5,0.6,0.7,0.8,0.9,2,3,4,5,6,7,8,9], "labels": false, "domain": false, "title": null, "tickSize": -5}},
        "y": {"field": "lo", "type": "quantitative", "scale": {"type": "log", "domain": [0.01, 100], "nice": false},
          "axis": {"orient": "left", "values": [0.02,0.03,0.04,0.05,0.06,0.07,0.08,0.09,0.2,0.3,0.4,0.5,0.6,0.7,0.8,0.9,2,3,4,5,6,7,8,9,20,30,40,50,60,70,80,90], "labels": false, "domain": false, "title": null, "tickSize": -5}},
        "y2": {"field": "hi"},
        "color": {"field": "s", "type": "nominal", "scale": {"domain": ["Without ZnO/CaO, Li₂O", "ZnO/CaO addition", "ZnO/CaO, Li₂O addition", "Li₂O addition"], "range": ["#231f20", "#ed2024", "#2ebfc0", "#8cc63e"]}}
      }
    },
    {
      "data": {"name": "b"},
      "mark": {"type": "point", "shape": "circle", "filled": false, "size": 34, "strokeWidth": 1.6, "opacity": 1},
      "encoding": {
        "x": {"field": "q", "type": "quantitative", "scale": {"type": "log", "domain": [0.05, 10], "nice": false},
          "axis": {"orient": "bottom", "title": "q (nm⁻¹)", "values": [0.1, 1, 10], "format": "~g", "tickSize": -9, "labelPadding": 12, "titlePadding": 8}},
        "y": {"field": "I", "type": "quantitative", "scale": {"type": "log", "domain": [0.01, 100], "nice": false},
          "axis": {"orient": "left", "title": "Intensity (cm⁻¹)", "values": [0.01, 0.1, 1, 10, 100], "format": "~g", "tickSize": -9, "labelPadding": 19, "titlePadding": 28}},
        "color": {"field": "s", "type": "nominal", "scale": {"domain": ["Without ZnO/CaO, Li₂O", "ZnO/CaO addition", "ZnO/CaO, Li₂O addition", "Li₂O addition"], "range": ["#231f20", "#ed2024", "#2ebfc0", "#8cc63e"]},
          "legend": {"title": " ", "titleOrient": "bottom", "titlePadding": 6, "orient": "none", "legendX": 142, "legendY": -7, "padding": 12, "symbolOffset": 0, "symbolType": "circle"}}
      }
    }
  ]
}
]
}
